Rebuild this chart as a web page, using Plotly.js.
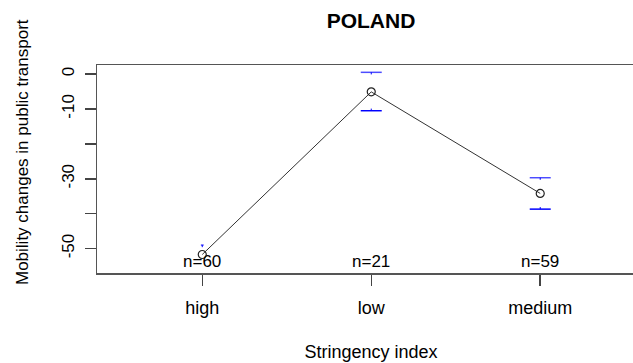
<!DOCTYPE html>
<html>
<head>
<meta charset="utf-8">
<script src="https://cdn.plot.ly/plotly-3.0.1.min.js"></script>
<style>
  html, body { margin: 0; padding: 0; overflow: hidden; background: #fff; }
  #chart { width: 660px; height: 363px; }
</style>
</head>
<body>
<div id="chart"></div>
<script>
// group means and confidence bounds
const categories = ['high', 'low', 'medium'];
const catPos = [1, 2, 3];
const means = [-51.7, -5.1, -34.2];
const ciUpper = [-49.0, 0.5, -29.7];
const ciLower = [null, -10.5, -38.7];
const nCounts = [60, 21, 59];

const yTicks = [0, -10, -20, -30, -40, -50];
const yTickText = ['0', '-10', '', '-30', '', '-50'];

const font = 'Liberation Sans, Arial, sans-serif';

const meanTrace = {
    x: catPos,
    y: means,
    mode: 'lines+markers',
    line: { color: '#333', width: 1 },
    marker: { symbol: 'circle-open', size: 8, color: '#222', line: { width: 1.2 } },
    hoverinfo: 'none'
};

const upperCaps = {
    x: catPos,
    y: ciUpper,
    mode: 'markers',
    marker: { symbol: 'line-ew-open', size: [2, 15, 15], color: 'blue', line: { color: 'blue', width: 1.5 } },
    error_y: { type: 'constant', symmetric: false, value: 0, valueminus: 0.6, width: 0, color: 'blue', thickness: 1 },
    hoverinfo: 'none'
};

const lowerCaps = {
    x: catPos,
    y: ciLower,
    mode: 'markers',
    marker: { symbol: 'line-ew-open', size: 15, color: 'blue', line: { color: 'blue', width: 1.5 } },
    error_y: { type: 'constant', symmetric: false, value: 0.6, valueminus: 0, width: 0, color: 'blue', thickness: 1 },
    hoverinfo: 'none'
};

const nLabels = catPos.map((x, i) => ({
    x: x,
    y: 0,
    xref: 'x',
    yref: 'paper',
    yanchor: 'bottom',
    text: 'n=' + nCounts[i],
    showarrow: false,
    font: { family: font, size: 17, color: '#000' }
}));

// y title placed by hand: the reference sets it a bit above the box centre
nLabels.push({
    x: 22,
    y: 152,
    xref: 'paper',
    yref: 'paper',
    xanchor: 'center',
    yanchor: 'middle',
    text: 'Mobility changes in public transport',
    textangle: -90,
    showarrow: false,
    font: { family: font, size: 17, color: '#000' }
});

const layout = {
    width: 660,
    height: 363,
    margin: { l: 97, r: 15, t: 65, b: 90 },
    paper_bgcolor: '#fff',
    plot_bgcolor: '#fff',
    showlegend: false,
    font: { family: font, size: 17, color: '#000' },
    title: {
        text: '<b>POLAND</b>',
        font: { family: font, size: 21, color: '#000' },
        x: 371 / 660,
        xanchor: 'center',
        y: 1 - 21 / 363,
        yanchor: 'middle'
    },
    xaxis: {
        range: [0.377, 3.62],
        tickvals: catPos,
        ticktext: categories,
        tickfont: { size: 18 },
        ticks: 'outside',
        ticklen: 11,
        tickwidth: 1.5,
        tickcolor: '#444',
        ticklabelstandoff: 7,
        showgrid: false,
        zeroline: false,
        showline: true,
        mirror: true,
        linecolor: '#555',
        linewidth: 1.5,
        title: { text: 'Stringency index', font: { size: 18 }, standoff: 28 }
    },
    yaxis: {
        range: [-57.0, 2.6],
        tickvals: yTicks,
        ticktext: yTickText,
        tickangle: -90,
        tickfont: { size: 17 },
        ticks: 'outside',
        ticklen: 11,
        tickwidth: 1.5,
        tickcolor: '#444',
        ticklabelstandoff: 4,
        showgrid: false,
        zeroline: false,
        showline: true,
        mirror: true,
        linecolor: '#555',
        linewidth: 1.5
    },
    annotations: nLabels
};

// paper coords for the y title annotation
const yt = layout.annotations[layout.annotations.length - 1];
yt.x = (yt.x - layout.margin.l) / (660 - layout.margin.l - layout.margin.r);
yt.y = (363 - layout.margin.b - yt.y) / (363 - layout.margin.t - layout.margin.b);

Plotly.newPlot('chart', [meanTrace, upperCaps, lowerCaps], layout, { displayModeBar: false, staticPlot: true });
</script>
</body>
</html>
